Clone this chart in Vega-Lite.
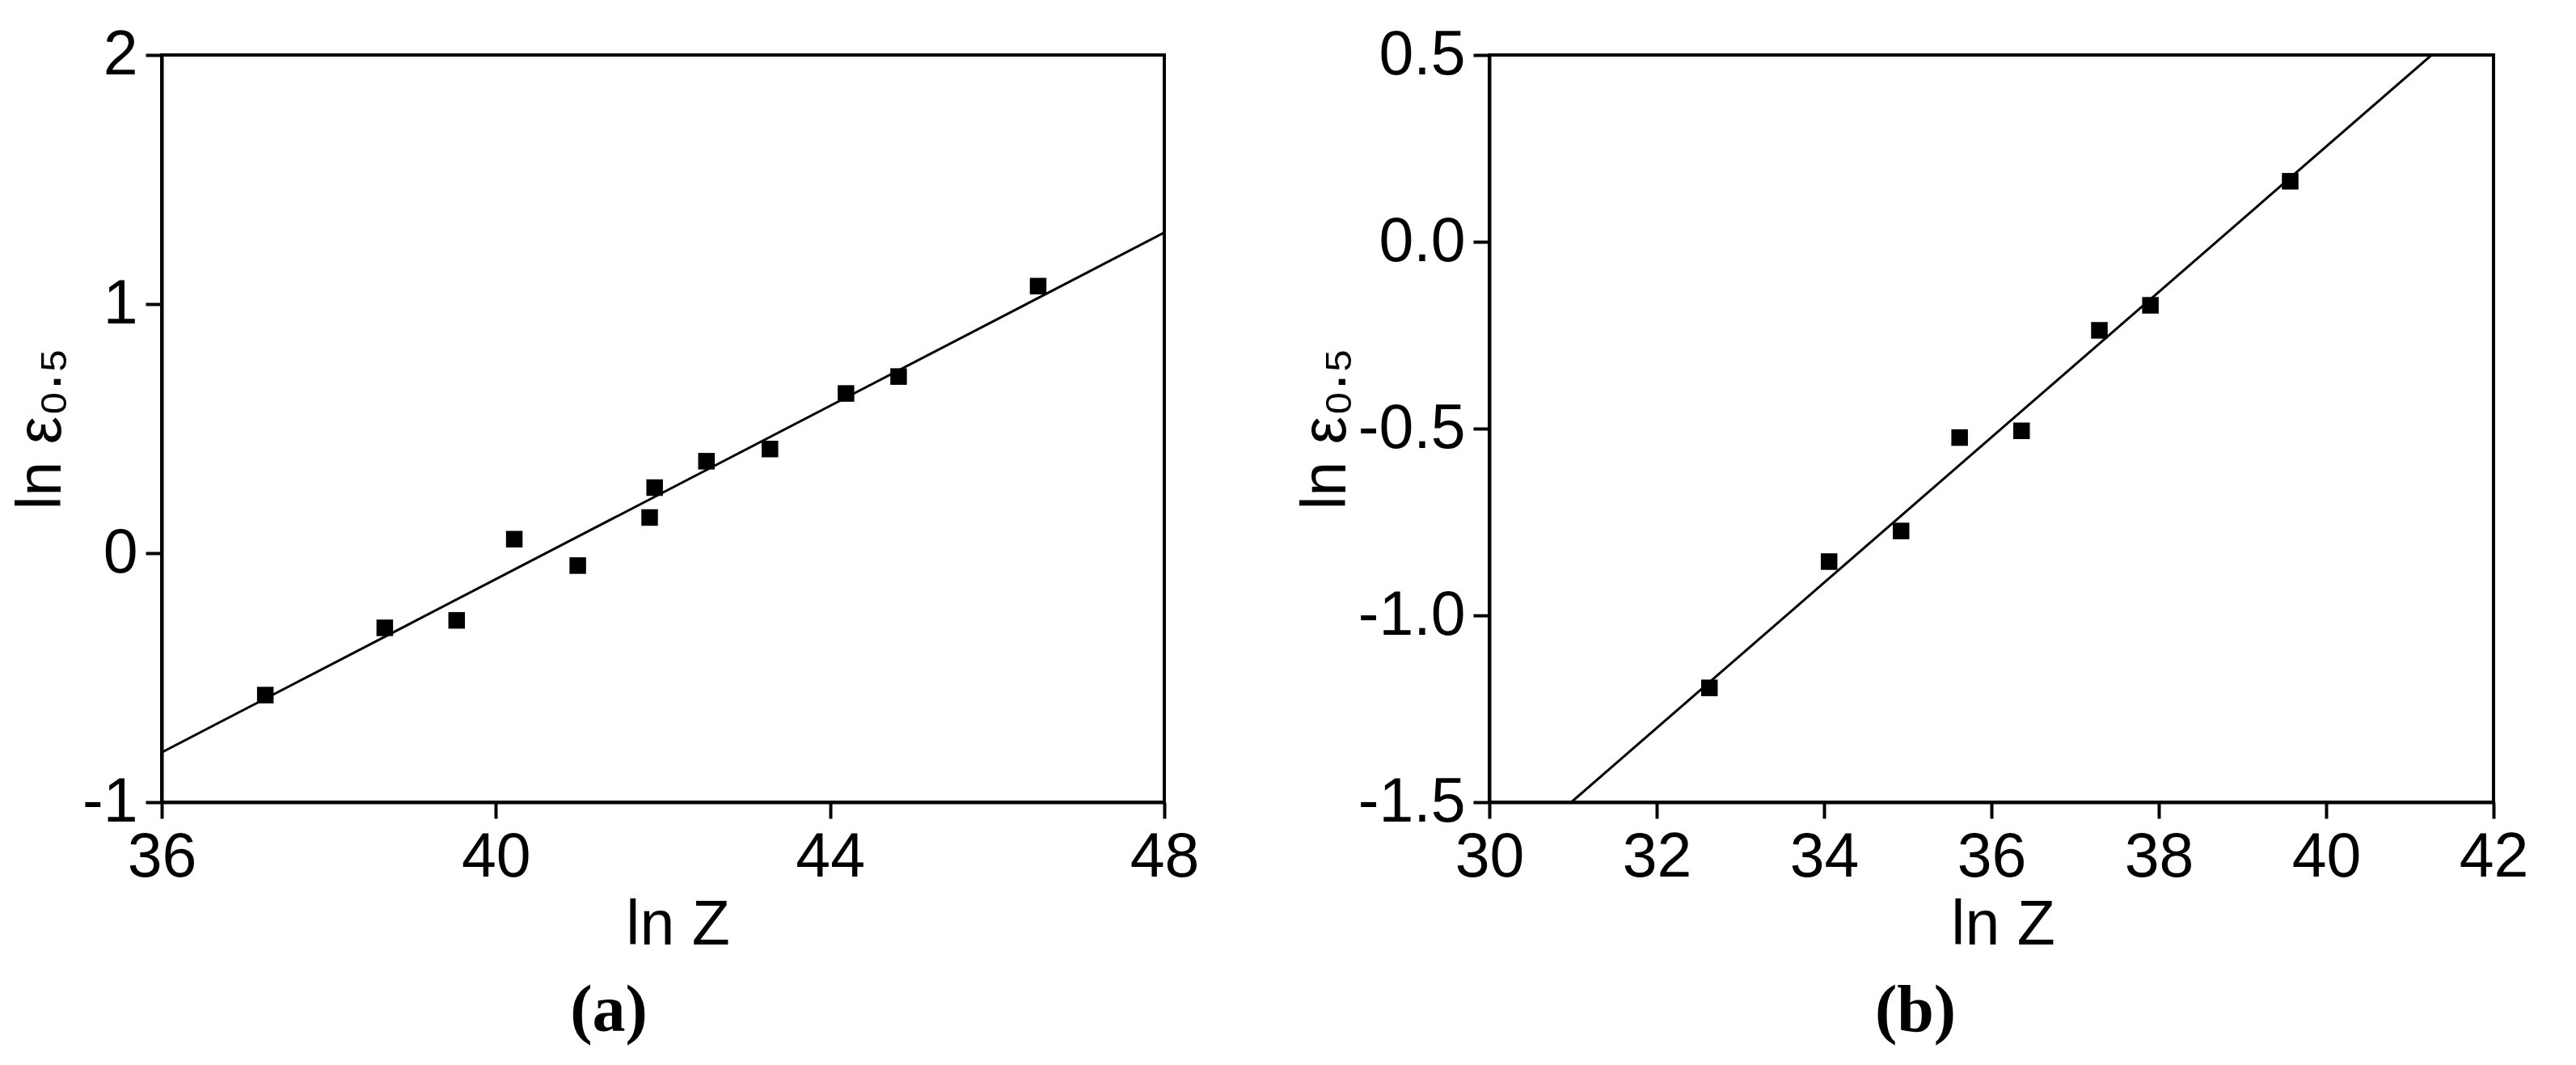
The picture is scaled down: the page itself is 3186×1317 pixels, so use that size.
{
  "$schema": "https://vega.github.io/schema/vega-lite/v6.json",
  "background": "white",
  "padding": {"left": 10, "top": 27, "right": 0, "bottom": 0},
  "spacing": 114,
  "datasets": {
    "a_pts": [
      {"lnZ": 37.24, "lnE": -0.57},
      {"lnZ": 38.67, "lnE": -0.30},
      {"lnZ": 39.53, "lnE": -0.27},
      {"lnZ": 40.22, "lnE": 0.056},
      {"lnZ": 40.98, "lnE": -0.05},
      {"lnZ": 41.84, "lnE": 0.143},
      {"lnZ": 41.90, "lnE": 0.263},
      {"lnZ": 42.52, "lnE": 0.369},
      {"lnZ": 43.28, "lnE": 0.418},
      {"lnZ": 44.19, "lnE": 0.641},
      {"lnZ": 44.82, "lnE": 0.709},
      {"lnZ": 46.49, "lnE": 1.072}
    ],
    "a_fit": [
      {"lnZ": 36, "lnE": -0.80},
      {"lnZ": 48, "lnE": 1.287}
    ],
    "b_pts": [
      {"lnZ": 32.63, "lnE": -1.194},
      {"lnZ": 34.06, "lnE": -0.856},
      {"lnZ": 34.92, "lnE": -0.774},
      {"lnZ": 35.62, "lnE": -0.524},
      {"lnZ": 36.36, "lnE": -0.506},
      {"lnZ": 37.29, "lnE": -0.237},
      {"lnZ": 37.90, "lnE": -0.170},
      {"lnZ": 39.57, "lnE": 0.162}
    ],
    "b_fit": [
      {"lnZ": 30.98, "lnE": -1.5},
      {"lnZ": 41.26, "lnE": 0.5}
    ]
  },
  "hconcat": [
    {
      "width": 1240,
      "height": 924,
      "title": {"text": "(a)", "orient": "bottom", "frame": "group", "anchor": "middle", "font": "Liberation Serif", "fontSize": 82, "fontWeight": "bold", "color": "black", "dx": -67, "offset": 28},
      "layer": [
        {
          "data": {"name": "a_fit"},
          "mark": {"type": "line", "color": "black", "strokeWidth": 3, "clip": true},
          "encoding": {
            "x": {"field": "lnZ", "type": "quantitative", "scale": {"domain": [36, 48], "nice": false, "zero": false},
              "axis": {"values": [36, 40, 44, 48], "format": "d", "title": "ln Z", "titleX": 638}},
            "y": {"field": "lnE", "type": "quantitative", "scale": {"domain": [-1, 2], "nice": false, "zero": false},
              "axis": {"values": [-1, 0, 1, 2], "format": "d", "title": "ln ε₀.₅", "labelExpr": "replace(datum.label, '−', '-')", "minExtent": 97, "maxExtent": 97, "titlePadding": 13}}
          }
        },
        {
          "data": {"name": "a_pts"},
          "mark": {"type": "square", "color": "black", "opacity": 1, "size": 420},
          "encoding": {
            "x": {"field": "lnZ", "type": "quantitative"},
            "y": {"field": "lnE", "type": "quantitative"}
          }
        }
      ]
    },
    {
      "width": 1242,
      "height": 924,
      "title": {"text": "(b)", "orient": "bottom", "frame": "group", "anchor": "middle", "font": "Liberation Serif", "fontSize": 82, "fontWeight": "bold", "color": "black", "dx": -94, "offset": 28},
      "layer": [
        {
          "data": {"name": "b_fit"},
          "mark": {"type": "line", "color": "black", "strokeWidth": 3, "clip": true},
          "encoding": {
            "x": {"field": "lnZ", "type": "quantitative", "scale": {"domain": [30, 42], "nice": false, "zero": false},
              "axis": {"values": [30, 32, 34, 36, 38, 40, 42], "format": "d", "title": "ln Z", "titleX": 635}},
            "y": {"field": "lnE", "type": "quantitative", "scale": {"domain": [-1.5, 0.5], "nice": false, "zero": false},
              "axis": {"values": [-1.5, -1.0, -0.5, 0.0, 0.5], "format": ".1f", "title": "ln ε₀.₅", "labelExpr": "replace(datum.label, '−', '-')", "minExtent": 163, "maxExtent": 163, "titlePadding": 0}}
          }
        },
        {
          "data": {"name": "b_pts"},
          "mark": {"type": "square", "color": "black", "opacity": 1, "size": 420},
          "encoding": {
            "x": {"field": "lnZ", "type": "quantitative"},
            "y": {"field": "lnE", "type": "quantitative"}
          }
        }
      ]
    }
  ],
  "config": {
    "view": {"stroke": "black", "strokeWidth": 4},
    "axis": {
      "grid": false,
      "domainColor": "black",
      "domainWidth": 4,
      "tickColor": "black",
      "tickWidth": 4,
      "tickSize": 20,
      "labelFont": "Liberation Sans",
      "labelFontSize": 77,
      "labelColor": "black",
      "labelPadding": 10,
      "labelFlush": false,
      "labelOverlap": false,
      "titleFont": "Liberation Sans",
      "titleFontSize": 77,
      "titleFontWeight": "normal",
      "titleColor": "black",
      "titlePadding": 8
    }
  }
}
